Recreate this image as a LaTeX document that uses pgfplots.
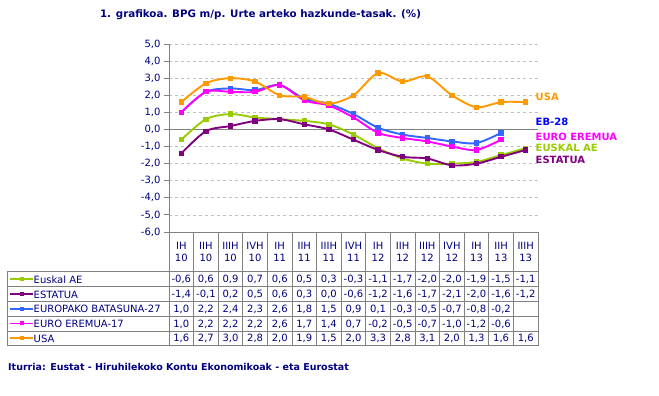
\documentclass[border=0pt]{standalone}
\usepackage{pgfplots}
\pgfplotsset{compat=1.18}
\usepackage{fontspec}
\setmainfont{DejaVu Sans}
\definecolor{navy}{HTML}{000080}
\definecolor{cEus}{HTML}{99CC00}
\definecolor{cEst}{HTML}{800080}
\definecolor{cEB}{HTML}{3366FF}
\definecolor{cEBt}{HTML}{0000FF}
\definecolor{cEuro}{HTML}{FF00FF}
\definecolor{cUSA}{HTML}{FF9900}
\definecolor{gridc}{HTML}{C0C0C0}
\definecolor{linec}{HTML}{808080}
\newcommand{\tf}{\fontsize{10}{11}\selectfont}
\begin{document}
\begin{tikzpicture}[x=1pt,y=1pt]
\path[use as bounding box] (0,0) rectangle (659,396);
\begin{axis}[at={(169pt,164pt)},anchor=south west,scale only axis,
  width=369pt,height=188pt,
  xmin=-0.5,xmax=14.5,ymin=-6,ymax=5,
  axis x line=none, axis y line*=left,
  y axis line style={draw=linec,line width=0.9pt,-},
  ytick={-6,...,5}, ymajorgrids,
  grid style={gridc,dash pattern=on 3pt off 3pt,line width=0.8pt},
  tick align=outside, major tick length=5pt,
  ytick style={draw=linec,line width=0.9pt},
  yticklabel style={font=\tf,color=navy},
  /pgf/number format/.cd, fixed, fixed zerofill, precision=1, use comma, assume math mode=true,
  /tikz/.cd, clip=false]
\draw[linec,line width=0.9pt] (axis cs:-0.5,0) -- (axis cs:14.5,0);
\draw[linec,line width=0.9pt] (axis cs:-0.5,-6) -- (axis cs:14.5,-6);
\pgfplotsset{every axis plot/.append style={line width=1.9pt,smooth,tension=0.5,mark=square*,mark size=1.7pt,mark options={solid}}}
\addplot[cEus] coordinates {(0,-0.6)(1,0.6)(2,0.9)(3,0.7)(4,0.6)(5,0.5)(6,0.3)(7,-0.3)(8,-1.1)(9,-1.7)(10,-2.0)(11,-2.0)(12,-1.9)(13,-1.5)(14,-1.1)};
\addplot[cEst] coordinates {(0,-1.4)(1,-0.1)(2,0.2)(3,0.5)(4,0.6)(5,0.3)(6,0.0)(7,-0.6)(8,-1.2)(9,-1.6)(10,-1.7)(11,-2.1)(12,-2.0)(13,-1.6)(14,-1.2)};
\addplot[cEB] coordinates {(0,1.0)(1,2.2)(2,2.4)(3,2.3)(4,2.6)(5,1.8)(6,1.5)(7,0.9)(8,0.1)(9,-0.3)(10,-0.5)(11,-0.7)(12,-0.8)(13,-0.2)};
\addplot[cEuro] coordinates {(0,1.0)(1,2.2)(2,2.2)(3,2.2)(4,2.6)(5,1.7)(6,1.4)(7,0.7)(8,-0.2)(9,-0.5)(10,-0.7)(11,-1.0)(12,-1.2)(13,-0.6)};
\addplot[cUSA] coordinates {(0,1.6)(1,2.7)(2,3.0)(3,2.8)(4,2.0)(5,1.9)(6,1.5)(7,2.0)(8,3.3)(9,2.8)(10,3.1)(11,2.0)(12,1.3)(13,1.6)(14,1.6)};
\end{axis}
\begin{scope}[yshift=396pt,y=-1pt]
% title
\node[font=\fontsize{10.3}{12}\selectfont\bfseries,text=navy] at (260.5,15) {1. grafikoa. BPG m/p. Urte arteko hazkunde-tasak. (\%)};
% right labels
\begin{scope}[font=\fontsize{10}{11}\selectfont\bfseries]
\node[anchor=west,text=cUSA,inner sep=0] at (535.5,96.5) {USA};
\node[anchor=west,text=cEBt,inner sep=0] at (535.5,122) {EB-28};
\node[anchor=west,text=cEuro,inner sep=0] at (535.5,136.8) {EURO EREMUA};
\node[anchor=west,text=cEus,inner sep=0] at (535.5,148.3) {EUSKAL AE};
\node[anchor=west,text=cEst,inner sep=0] at (535.5,160.3) {ESTATUA};
\end{scope}
% table grid
\foreach \k in {0,...,15} {\draw[linec,line width=0.8pt] (169+\k*24.6,232) -- (169+\k*24.6,345.7);}
\draw[linec,line width=0.8pt] (7,271.7) -- (7,345.7);
\foreach \yy in {271.7,286.5,301.3,316.1,331,345.7} {\draw[linec,line width=0.8pt] (7,\yy) -- (538,\yy);}
% header
\foreach \q [count=\i from 0] in {IH,IIH,IIIH,IVH,IH,IIH,IIIH,IVH,IH,IIH,IIIH,IVH,IH,IIH,IIIH} {
  \node[font=\tf,text=navy,inner sep=0] at (169+\i*24.6+12.3,245.5) {\q};}
\foreach \q [count=\i from 0] in {10,10,10,10,11,11,11,11,12,12,12,12,13,13,13} {
  \node[font=\tf,text=navy,inner sep=0] at (169+\i*24.6+12.3,257.5) {\q};}
% row labels
\foreach \nm/\cl [count=\r from 0] in {Euskal AE/cEus,ESTATUA/cEst,EUROPAKO BATASUNA-27/cEB,EURO EREMUA-17/cEuro,USA/cUSA} {
  \draw[\cl,line width=1.9pt] (10,279.1+\r*14.8) -- (33,279.1+\r*14.8);
  \fill[\cl] (19.5,277.1+\r*14.8) rectangle (23.5,281.1+\r*14.8);
  \node[font=\tf,text=navy,anchor=west,inner sep=0] at (33.5,279.6+\r*14.8) {\nm};}
% values
\foreach \row [count=\r from 0] in {
 {{-0,6},{0,6},{0,9},{0,7},{0,6},{0,5},{0,3},{-0,3},{-1,1},{-1,7},{-2,0},{-2,0},{-1,9},{-1,5},{-1,1}},
 {{-1,4},{-0,1},{0,2},{0,5},{0,6},{0,3},{0,0},{-0,6},{-1,2},{-1,6},{-1,7},{-2,1},{-2,0},{-1,6},{-1,2}},
 {{1,0},{2,2},{2,4},{2,3},{2,6},{1,8},{1,5},{0,9},{0,1},{-0,3},{-0,5},{-0,7},{-0,8},{-0,2},{}},
 {{1,0},{2,2},{2,2},{2,2},{2,6},{1,7},{1,4},{0,7},{-0,2},{-0,5},{-0,7},{-1,0},{-1,2},{-0,6},{}},
 {{1,6},{2,7},{3,0},{2,8},{2,0},{1,9},{1,5},{2,0},{3,3},{2,8},{3,1},{2,0},{1,3},{1,6},{1,6}}} {
  \foreach \v [count=\i from 0] in \row {
    \node[font=\tf,text=navy,inner sep=0] at (169+\i*24.6+12.3,279.6+\r*14.8) {\v};}}
% source
\node[font=\fontsize{9.5}{11}\selectfont\bfseries,text=navy,anchor=west,inner sep=0] at (8,367) {Iturria: Eustat - Hiruhilekoko Kontu Ekonomikoak - eta Eurostat};
\end{scope}
\end{tikzpicture}
\end{document}
